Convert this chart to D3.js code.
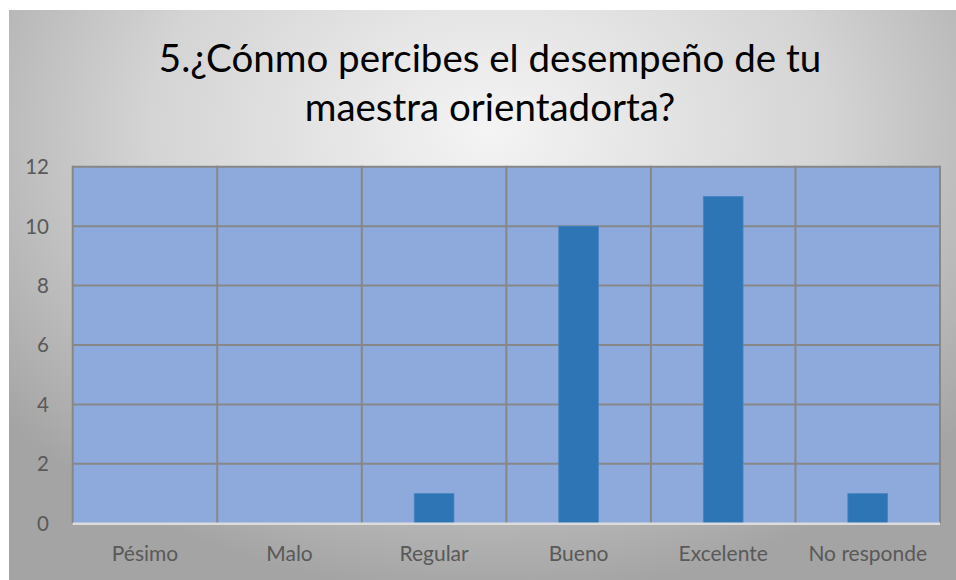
<!DOCTYPE html>
<html><head><meta charset="utf-8">
<script src="https://cdn.jsdelivr.net/npm/d3@7"></script>
<style>html,body{margin:0;padding:0;background:#fff;}svg{display:block;}</style>
</head><body>
<script>
const categories = ["Pésimo","Malo","Regular","Bueno","Excelente","No responde"];
const values = [0,0,1,10,11,1];
const yTicks = [0,2,4,6,8,10,12];
const titleLines = ["5.¿Cónmo percibes el desempeño de tu","maestra orientadorta?"];

const W = 956, H = 580;
const svg = d3.select("body").append("svg").attr("width",W).attr("height",H);
const defs = svg.append("defs");
const rg = defs.append("radialGradient").attr("id","bg")
  .attr("gradientUnits","userSpaceOnUse").attr("cx",490).attr("cy",130).attr("r",620)
  .attr("gradientTransform","translate(490,130) scale(1,0.75) translate(-490,-130)");
rg.append("stop").attr("offset","0").attr("stop-color","#f4f4f4");
rg.append("stop").attr("offset","0.55").attr("stop-color","#d4d4d4");
rg.append("stop").attr("offset","1").attr("stop-color","#a4a4a4");

svg.append("rect").attr("x",9).attr("y",10).attr("width",W-9).attr("height",H-10).attr("fill","url(#bg)");

const m = {left:72.7, right:940, top:166.7, bottom:523.3};
const x = d3.scaleBand().domain(categories).range([m.left,m.right]).paddingInner(0).paddingOuter(0);
const y = d3.scaleLinear().domain([0,12]).range([m.bottom,m.top]);

svg.append("rect").attr("x",m.left).attr("y",m.top).attr("width",m.right-m.left).attr("height",m.bottom-m.top).attr("fill","#8eaadc");

const g = svg.append("g");
g.selectAll("line.h").data(yTicks.filter(d=>d>0)).enter().append("line")
  .attr("x1",m.left).attr("x2",m.right).attr("y1",d=>y(d)).attr("y2",d=>y(d))
  .attr("stroke","#878787").attr("stroke-width",2);
const bounds = categories.map(c=>x(c)).concat([m.right]);
g.selectAll("line.v").data(bounds).enter().append("line")
  .attr("x1",d=>d).attr("x2",d=>d).attr("y1",m.top-1).attr("y2",m.bottom)
  .attr("stroke","#878787").attr("stroke-width",2);

const bw = x.bandwidth()*0.275;
svg.selectAll("rect.bar").data(values).enter().append("rect")
  .attr("x",(d,i)=>x(categories[i])+x.bandwidth()/2-bw/2)
  .attr("y",d=>y(d)).attr("width",bw).attr("height",d=>y(0)-y(d))
  .attr("fill","#2e75b6").attr("stroke","#4a86c2").attr("stroke-width",0.8);

svg.append("line").attr("x1",m.left).attr("x2",m.right).attr("y1",m.bottom+0.5).attr("y2",m.bottom+0.5)
  .attr("stroke","#dcdcdc").attr("stroke-width",2.5);

svg.selectAll("text.yt").data(yTicks).enter().append("text")
  .attr("x",49).attr("y",d=>y(d)).attr("dy","0.36em").attr("text-anchor","end")
  .attr("font-family","Lato, 'Open Sans', sans-serif").attr("font-size",20.5).attr("fill","#595959")
  .text(d=>d);

svg.selectAll("text.xt").data(categories).enter().append("text")
  .attr("x",d=>x(d)+x.bandwidth()/2).attr("y",561).attr("text-anchor","middle")
  .attr("font-family","Lato, 'Open Sans', sans-serif").attr("font-size",21).attr("fill","#595959")
  .text(d=>d);

svg.selectAll("text.title").data(titleLines).enter().append("text")
  .attr("x",490).attr("y",(d,i)=>72+i*49).attr("text-anchor","middle")
  .attr("font-family","Lato, 'Open Sans', sans-serif").attr("font-size",38.5).attr("fill","#000")
  .text(d=>d);
</script>
</body></html>
